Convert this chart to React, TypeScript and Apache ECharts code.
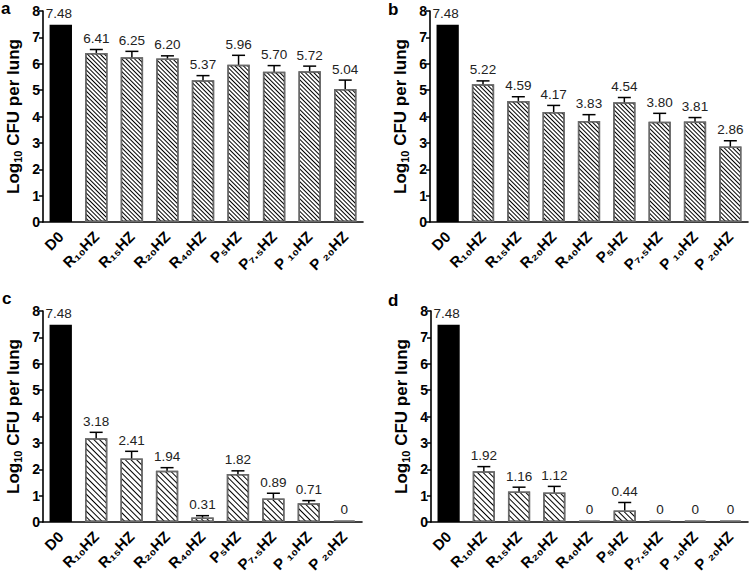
import React, { useEffect, useRef } from 'react';
import * as echarts from 'echarts';

const categories = ['D0', 'R10HZ', 'R15HZ', 'R20HZ', 'R40HZ', 'P5HZ', 'P7.5HZ', 'P10HZ', 'P20HZ'];
const yTicks = [0, 8, 1]; // min, max, interval

const valuesA = [7.48, 6.41, 6.25, 6.2, 5.37, 5.96, 5.7, 5.72, 5.04];
const errorsA = [0, 0.13, 0.22, 0.1, 0.18, 0.36, 0.23, 0.19, 0.34];
const labelsA = ['7.48', '6.41', '6.25', '6.20', '5.37', '5.96', '5.70', '5.72', '5.04'];

const valuesB = [7.48, 5.22, 4.59, 4.17, 3.83, 4.54, 3.8, 3.81, 2.86];
const errorsB = [0, 0.13, 0.16, 0.25, 0.24, 0.18, 0.32, 0.15, 0.22];
const labelsB = ['7.48', '5.22', '4.59', '4.17', '3.83', '4.54', '3.80', '3.81', '2.86'];

const valuesC = [7.48, 3.18, 2.41, 1.94, 0.17, 1.82, 0.89, 0.71, 0];
const errorsC = [0, 0.22, 0.27, 0.12, 0.07, 0.12, 0.2, 0.1, 0];
const labelsC = ['7.48', '3.18', '2.41', '1.94', '0.31', '1.82', '0.89', '0.71', '0'];

const valuesD = [7.48, 1.92, 1.16, 1.12, 0, 0.44, 0, 0, 0];
const errorsD = [0, 0.18, 0.16, 0.23, 0, 0.3, 0, 0, 0];
const labelsD = ['7.48', '1.92', '1.16', '1.12', '0', '0.44', '0', '0', '0'];

const panelLetters = ['a', 'b', 'c', 'd'];

const FONT = 'Liberation Sans, Arial, Helvetica, sans-serif';

const SUB_DIGITS: Record<string, string> = {
  '0': '\u2080', '1': '\u2081', '2': '\u2082', '3': '\u2083', '4': '\u2084',
  '5': '\u2085', '6': '\u2086', '7': '\u2087', '8': '\u2088', '9': '\u2089', '.': '.',
};

function catFormatter(name: string) {
  const m = name.match(/^([RP])(\d+(?:\.\d+)?)HZ$/);
  if (!m) return name;
  const sp = m[1] === 'P' && (m[2] === '10' || m[2] === '20') ? ' ' : '';
  const sub = m[2].split('').map((c) => SUB_DIGITS[c] || c).join('');
  return m[1] + sp + sub + 'HZ';
}

export default function App() {
  const ref = useRef<HTMLDivElement>(null);
  useEffect(() => {
    if (!ref.current) return;
    const chart = echarts.init(ref.current, undefined, { renderer: 'svg' });
    const grids = [
      { left: 43, top: 11, width: 320, height: 211 },
      { left: 430, top: 11, width: 318, height: 211 },
      { left: 43, top: 311, width: 319, height: 211 },
      { left: 431, top: 311, width: 317, height: 211 },
    ];
    const panels = [
      { v: valuesA, e: errorsA, l: labelsA, dash: [1, 2] },
      { v: valuesB, e: errorsB, l: labelsB, dash: [1, 2] },
      { v: valuesC, e: errorsC, l: labelsC, dash: [1, 3] },
      { v: valuesD, e: errorsD, l: labelsD, dash: [1, 3] },
    ];
    const xAxis = grids.map((_, i) => ({
      type: 'category',
      gridIndex: i,
      data: categories,
      axisLine: { lineStyle: { color: '#000', width: 1.6 } },
      axisTick: { alignWithLabel: true, length: 5, lineStyle: { color: '#000', width: 1.5 } },
      axisLabel: {
        interval: 0,
        rotate: 45,
        margin: 12,
        color: '#000',
        fontFamily: FONT,
        fontWeight: 'bold',
        fontSize: 15,
        formatter: catFormatter,
      },
    }));
    const yAxis = grids.map((_, i) => ({
      type: 'value',
      gridIndex: i,
      min: yTicks[0],
      max: yTicks[1],
      interval: yTicks[2],
      splitLine: { show: false },
      axisLine: { show: true, lineStyle: { color: '#000', width: 1.6 } },
      axisTick: { show: true, length: 4, lineStyle: { color: '#000', width: 1.5 } },
      axisLabel: { color: '#000', fontFamily: FONT, fontWeight: 'bold', fontSize: 14, margin: 3 },
      name: '{a|Log}{s|10}{a| CFU per lung}',
      nameLocation: 'middle',
      nameGap: 20,
      nameRotate: 90,
      nameTextStyle: {
        color: '#000',
        fontFamily: FONT,
        fontWeight: 'bold',
        fontSize: 17,
        rich: {
          a: { fontFamily: FONT, fontWeight: 'bold', fontSize: 17, lineHeight: 20, color: '#000' },
          s: { fontFamily: FONT, fontWeight: 'bold', fontSize: 11, lineHeight: 8, verticalAlign: 'bottom', color: '#000' },
        },
      },
    }));
    const series: any[] = [];
    panels.forEach((p, i) => {
      series.push({
        type: 'bar',
        xAxisIndex: i,
        yAxisIndex: i,
        barWidth: '63%',
        barMinHeight: 1.5,
        itemStyle: {
          color: '#fff',
          borderColor: '#6a6a6a',
          borderWidth: 1.5,
          decal: {
            symbol: 'rect',
            symbolSize: 1,
            rotation: Math.PI / 4,
            dashArrayX: [1, 0],
            dashArrayY: p.dash,
            color: '#000',
            backgroundColor: '#fff',
          },
        },
        data: p.v.map((v, k) =>
          k === 0
            ? { value: v, itemStyle: { color: '#000', borderColor: '#000', decal: 'none' } }
            : v
        ),
      });
      const labels = p.l;
      series.push({
        type: 'custom',
        xAxisIndex: i,
        yAxisIndex: i,
        z: 10,
        clip: false,
        data: p.v.map((v, k) => [k, v, p.e[k]]),
        renderItem: (params: any, api: any) => {
          const idx = api.value(0);
          const v = api.value(1);
          const e = api.value(2);
          const base = api.coord([idx, v]);
          const top = api.coord([idx, v + e]);
          const children: any[] = [];
          if (e > 0) {
            children.push({
              type: 'line',
              shape: { x1: base[0], y1: base[1], x2: top[0], y2: top[1] },
              style: { stroke: '#000', lineWidth: 1.5 },
            });
            children.push({
              type: 'line',
              shape: { x1: top[0] - 6.5, y1: top[1], x2: top[0] + 6.5, y2: top[1] },
              style: { stroke: '#000', lineWidth: 1.5 },
            });
          }
          const ty = v === 0 ? top[1] - 2 : top[1];
          children.push({
            type: 'text',
            x: top[0] - (idx === 0 ? 2 : 0),
            y: ty - 4,
            style: {
              text: labels[params.dataIndex],
              fill: '#222',
              font: '13.5px ' + FONT,
              align: 'center',
              verticalAlign: 'bottom',
            },
          });
          return { type: 'group', children };
        },
      });
    });
    const letterPos = [
      [1, 0],
      [388, 1],
      [2, 290],
      [388, 292],
    ];
    chart.setOption({
      animation: false,
      grid: grids,
      xAxis,
      yAxis,
      series,
      graphic: panelLetters.map((t, i) => ({
        type: 'text',
        x: letterPos[i][0],
        y: letterPos[i][1],
        style: { text: t, fill: '#000', font: 'bold 17px ' + FONT },
      })),
    });
    return () => chart.dispose();
  }, []);
  return (
    <div
      ref={ref}
      style={{ position: 'fixed', left: 0, top: 0, width: 750, height: 578, background: '#fff' }}
    />
  );
}
